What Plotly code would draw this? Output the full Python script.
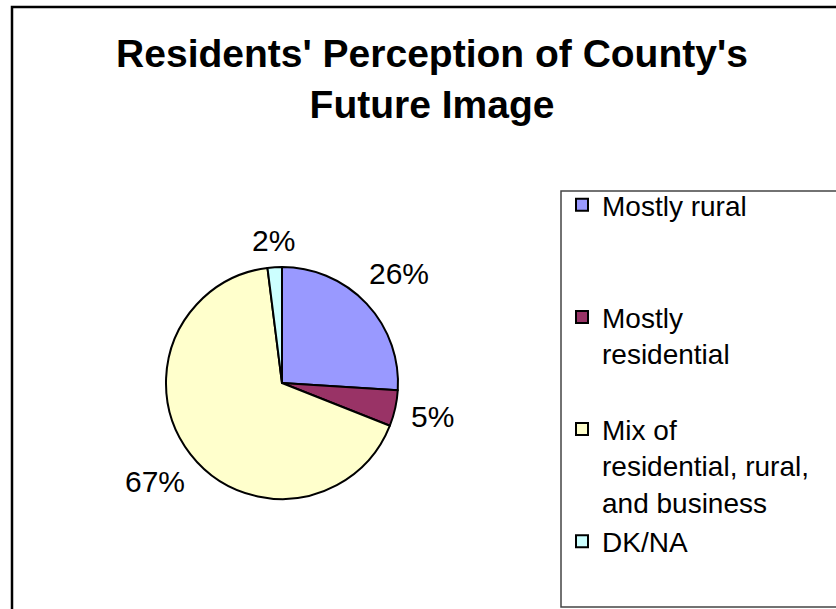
import math
import plotly.graph_objects as go

# Survey answers and their shares (percent)
categories = ["Mostly rural", "Mostly residential",
              "Mix of residential, rural, and business", "DK/NA"]
legend_labels = ["Mostly rural<br> <br> ",
                 "Mostly<br>residential<br> ",
                 "Mix of<br>residential, rural,<br>and business",
                 "DK/NA"]
shares = [26, 5, 67, 2]
colors = ["#9999FF", "#993366", "#FFFFCC", "#CCFFFF"]

W, H = 836, 609
FONT = "Liberation Sans, Arial, sans-serif"
LABEL_SIZE = 30

# pie placement (pixels)
cx, cy, r = 282, 383, 116

fig = go.Figure(go.Pie(
    labels=legend_labels,
    values=shares,
    sort=False,
    direction="clockwise",
    rotation=0,
    marker=dict(colors=colors, line=dict(color="black", width=2)),
    textinfo="none",
    hoverinfo="skip",
    domain=dict(x=[(cx - r) / W, (cx + r) / W],
                y=[1 - (cy + r) / H, 1 - (cy - r) / H]),
    automargin=False,
))

# percentage labels set just outside each slice, along its mid-angle
total = sum(shares)
annotations = []
cum = 0.0
for v in shares:
    mid = (cum + v / 2) / total * 2 * math.pi
    cum += v
    ux, uy = math.sin(mid), -math.cos(mid)      # screen direction (y down)
    txt = f"{round(100 * v / total)}%"
    half_w = LABEL_SIZE * (0.556 * (len(txt) - 1) + 0.889) / 2
    half_h = LABEL_SIZE * 0.36
    d = r + 15 + half_w * abs(ux) + half_h * abs(uy)
    px, py = cx + d * ux, cy + d * uy
    annotations.append(dict(
        text=txt, x=px / W, y=1 - py / H, xref="paper", yref="paper",
        xanchor="center", yanchor="middle", showarrow=False,
        font=dict(family=FONT, size=LABEL_SIZE, color="black"),
    ))

fig.update_layout(
    width=W, height=H,
    margin=dict(l=0, r=0, t=0, b=0, autoexpand=False),
    paper_bgcolor="white",
    plot_bgcolor="white",
    font=dict(family=FONT, color="black"),
    title=dict(
        text="<b>Residents' Perception of County's<br>Future Image</b>",
        font=dict(family=FONT, size=39, color="black"),
        x=432 / W, xanchor="center",
        y=1 - 67 / H, yanchor="top", yref="container",
    ),
    annotations=annotations,
    showlegend=True,
    legend=dict(
        x=562 / W, xanchor="left",
        y=1 - 180 / H, yanchor="top",
        font=dict(family=FONT, size=28, color="black"),
        bgcolor="rgba(0,0,0,0)",
        borderwidth=0,
        valign="top",
        itemclick=False, itemdoubleclick=False,
    ),
    shapes=[
        # chart-area frame
        dict(type="rect", xref="paper", yref="paper",
             x0=12 / W, x1=1.1, y0=-0.1, y1=1 - 7 / H,
             line=dict(color="black", width=2.5), layer="above"),
        # legend frame
        dict(type="rect", xref="paper", yref="paper",
             x0=561 / W, x1=1.1, y0=1 - 607 / H, y1=1 - 191 / H,
             line=dict(color="#444444", width=1.5), layer="above"),
    ],
)

fig.write_html("out.html")
